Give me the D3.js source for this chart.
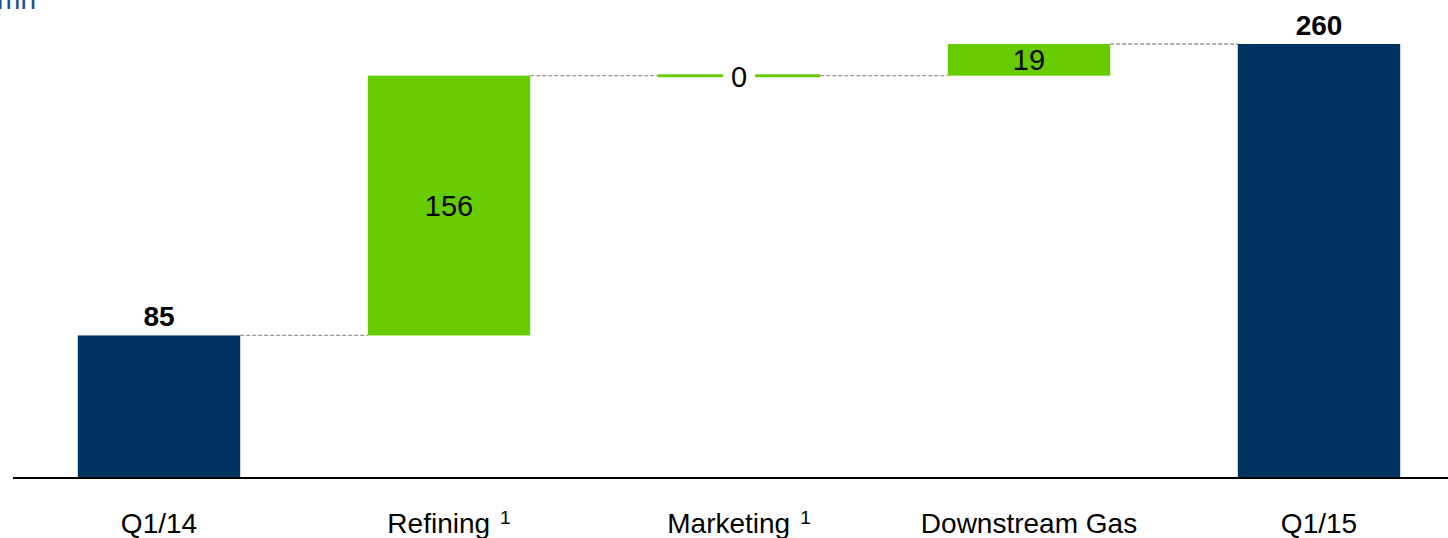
<!DOCTYPE html>
<html><head><meta charset="utf-8">
<script src="https://cdn.jsdelivr.net/npm/d3@7"></script>
<style>body{margin:0;background:#fff}svg{display:block;font-family:Arial,"Liberation Sans",sans-serif}</style>
</head><body><svg id="c" width="1448" height="538"></svg>
<script>
const categories = ["Q1/14", "Refining", "Marketing", "Downstream Gas", "Q1/15"];
const footnotes = ["", "1", "1", "", ""];
const values = [85, 156, 0, 19, 260];
const kinds = ["total", "delta", "delta", "delta", "total"];
const unitLabel = "in EUR mn";

const svg = d3.select("#c");
const x = d3.scaleBand().domain(categories).range([14, 1464]).paddingInner(0.44).paddingOuter(0.22);
const y = d3.scaleLinear().domain([0, 260]).range([477, 44]);

let run = 0;
const bars = categories.map((c, i) => {
  let y0, y1;
  if (kinds[i] === "total") { y0 = 0; y1 = values[i]; run = values[i]; }
  else { y0 = run; y1 = run + values[i]; run = y1; }
  return {c, i, y0, y1, v: values[i], kind: kinds[i]};
});

// connectors
bars.slice(0, -1).forEach((b, i) => {
  const n = bars[i + 1];
  svg.append("line").attr("x1", x(b.c) + x.bandwidth()).attr("x2", x(n.c))
    .attr("y1", y(b.y1)).attr("y2", y(b.y1))
    .attr("stroke", "#999").attr("stroke-width", 1.3).attr("stroke-dasharray", "4,2");
});

bars.forEach(b => {
  const col = b.kind === "total" ? "#003362" : "#66cc00";
  const cx = x(b.c) + x.bandwidth()/2;
  if (b.v === 0) {
    svg.append("line").attr("x1", x(b.c)).attr("x2", x(b.c) + x.bandwidth())
      .attr("y1", y(b.y1)).attr("y2", y(b.y1)).attr("stroke", col).attr("stroke-width", 3);
    svg.append("rect").attr("x", cx - 16).attr("y", y(b.y1) - 16)
      .attr("width", 32).attr("height", 32).attr("fill", "#fff");
    svg.append("text").attr("x", cx).attr("y", y(b.y1) + 11)
      .attr("text-anchor", "middle").attr("font-size", 29).attr("fill", "#000").text(b.v);
    return;
  }
  const top = Math.max(b.y0, b.y1), bot = Math.min(b.y0, b.y1);
  svg.append("rect").attr("x", x(b.c)).attr("width", x.bandwidth())
    .attr("y", y(top)).attr("height", y(bot) - y(top)).attr("fill", col);
  if (b.kind === "total") {
    svg.append("text").attr("x", cx).attr("y", y(top) - 9)
      .attr("text-anchor", "middle").attr("font-size", 28).attr("font-weight", "bold").text(b.v);
  } else {
    svg.append("text").attr("x", cx).attr("y", (y(top) + y(bot))/2 + 10)
      .attr("text-anchor", "middle").attr("font-size", 29).text(b.v);
  }
});

// axis line
svg.append("line").attr("x1", 13).attr("x2", 1448).attr("y1", 478).attr("y2", 478)
  .attr("stroke", "#000").attr("stroke-width", 2);

// category labels
categories.forEach((c, i) => {
  const t = svg.append("text").attr("x", x(c) + x.bandwidth()/2).attr("y", 533)
    .attr("text-anchor", "middle").attr("font-size", 28).attr("fill", "#000");
  t.append("tspan").text(c);
  if (footnotes[i]) t.append("tspan").attr("dx", 10).attr("dy", -9).attr("font-size", 19).text(footnotes[i]);
});

// unit label (cut off at top)
svg.append("text").attr("x", 36).attr("y", 9).attr("text-anchor", "end")
  .attr("font-size", 28).attr("fill", "#1f4e8c").text(unitLabel);
</script></body></html>
